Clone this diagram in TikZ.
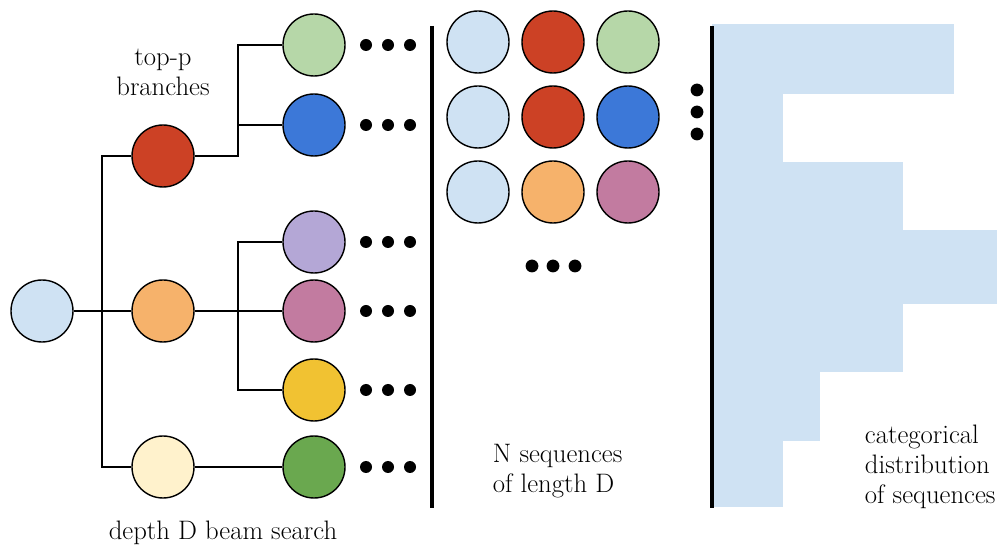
\documentclass[tikz,border=0pt]{standalone}
\usepackage{xcolor}
\usepackage{tikz}
\usetikzlibrary{calc, positioning}

\definecolor{lblue}{HTML}{CFE2F3}
\definecolor{rred}{HTML}{CC4125}
\definecolor{lgreen}{HTML}{B6D7A8}
\definecolor{bblue}{HTML}{3C78D8}
\definecolor{lpurple}{HTML}{B4A7D6}
\definecolor{ppink}{HTML}{C27BA0}
\definecolor{yyellow}{HTML}{F1C232}
\definecolor{oorange}{HTML}{F6B26B}
\definecolor{cream}{HTML}{FFF2CC}
\definecolor{dgreen}{HTML}{6AA84F}

\tikzset{
  tok/.style={circle, draw=black, line width=1pt, minimum size=1.55cm, inner sep=0pt},
  branch/.style={line width=2pt, black},
  wall/.style={line width=2.8pt, black},
  lbl/.style={font=\fontsize{19}{21.3}\selectfont, align=center},
}

\begin{document}
\begin{tikzpicture}
        \useasboundingbox (0,0) rectangle (25.025,13.625);

        % tree: root, top-p branches, beams
        \node[tok, fill=lblue] (root) at (1.05,5.85) {};
        \node[tok, fill=rred] (red) at (4.075,9.725) {};
        \node[tok, fill=oorange] (orange) at (4.075,5.85) {};
        \node[tok, fill=cream] (cream) at (4.075,1.95) {};
        \node[tok, fill=lgreen] (green) at (7.85,12.5) {};
        \node[tok, fill=bblue] (blue) at (7.85,10.5) {};
        \node[tok, fill=lpurple] (purple) at (7.85,7.575) {};
        \node[tok, fill=ppink] (pink) at (7.85,5.85) {};
        \node[tok, fill=yyellow] (yellow) at (7.85,3.875) {};
        \node[tok, fill=dgreen] (dgreen) at (7.85,1.95) {};

        \coordinate (trunk) at (2.55,0);
        \coordinate (fork) at (5.95,0);
        \draw[branch] (root) -- (orange);
        \draw[branch] (red.west) -- (red.west -| trunk) -- (cream.west -| trunk) -- (cream.west);
        \draw[branch] (green.west) -- (green.west -| fork) |- (red.east);
        \draw[branch] (blue.west) -- (blue.west -| fork);
        \draw[branch] (purple.west) -- (purple.west -| fork) -- (yellow.west -| fork) -- (yellow.west);
        \draw[branch] (orange) -- (pink);
        \draw[branch] (cream) -- (dgreen);

        \foreach \y in {12.5, 10.5, 7.575, 5.85, 3.875, 1.95} {
            \foreach \x in {9.15, 9.7, 10.25} {
                \fill (\x,\y) circle (0.15);
            }
        }

        \node[lbl] (topp) at (4.075,11.825) {top-p\\branches};
        \node[lbl] (beam) at (5.575,0.3) {depth D beam search};

        % sampled sequences
        \draw[wall] (10.8,12.975) -- (10.8,0.925);
        \foreach \c [count=\i] in {lblue, rred, lgreen} {
            \node[tok, fill=\c] (sa\i) at ({11.95+1.875*(\i-1)},12.575) {};
        }
        \foreach \c [count=\i] in {lblue, rred, bblue} {
            \node[tok, fill=\c] (sb\i) at ({11.95+1.875*(\i-1)},10.7) {};
        }
        \foreach \c [count=\i] in {lblue, oorange, ppink} {
            \node[tok, fill=\c] (sc\i) at ({11.95+1.875*(\i-1)},8.825) {};
        }
        \foreach \x in {13.3, 13.825, 14.375} {
            \fill (\x,6.975) circle (0.16);
        }
        \node[lbl, anchor=west, align=left] (nseq) at (12.2,1.85) {N sequences\\of length D};

        % histogram
        \foreach \top/\bot/\w in {13.025/11.275/23.85, 11.275/9.575/19.575, 9.575/7.875/22.575,
                                  7.875/6.025/24.925, 6.025/4.325/22.575, 4.325/2.6/20.5, 2.6/0.95/19.575} {
            \fill[lblue] (17.8,\bot) rectangle (\w,\top);
        }
        \draw[wall] (17.8,12.975) -- (17.8,0.925);
        \foreach \y in {11.375, 10.825, 10.275} {
            \fill (17.425,\y) circle (0.16);
        }
        \node[lbl, anchor=west, align=left] (cat) at (21.5,1.95) {categorical\\distribution\\of sequences};
    \end{tikzpicture}
\end{document}
